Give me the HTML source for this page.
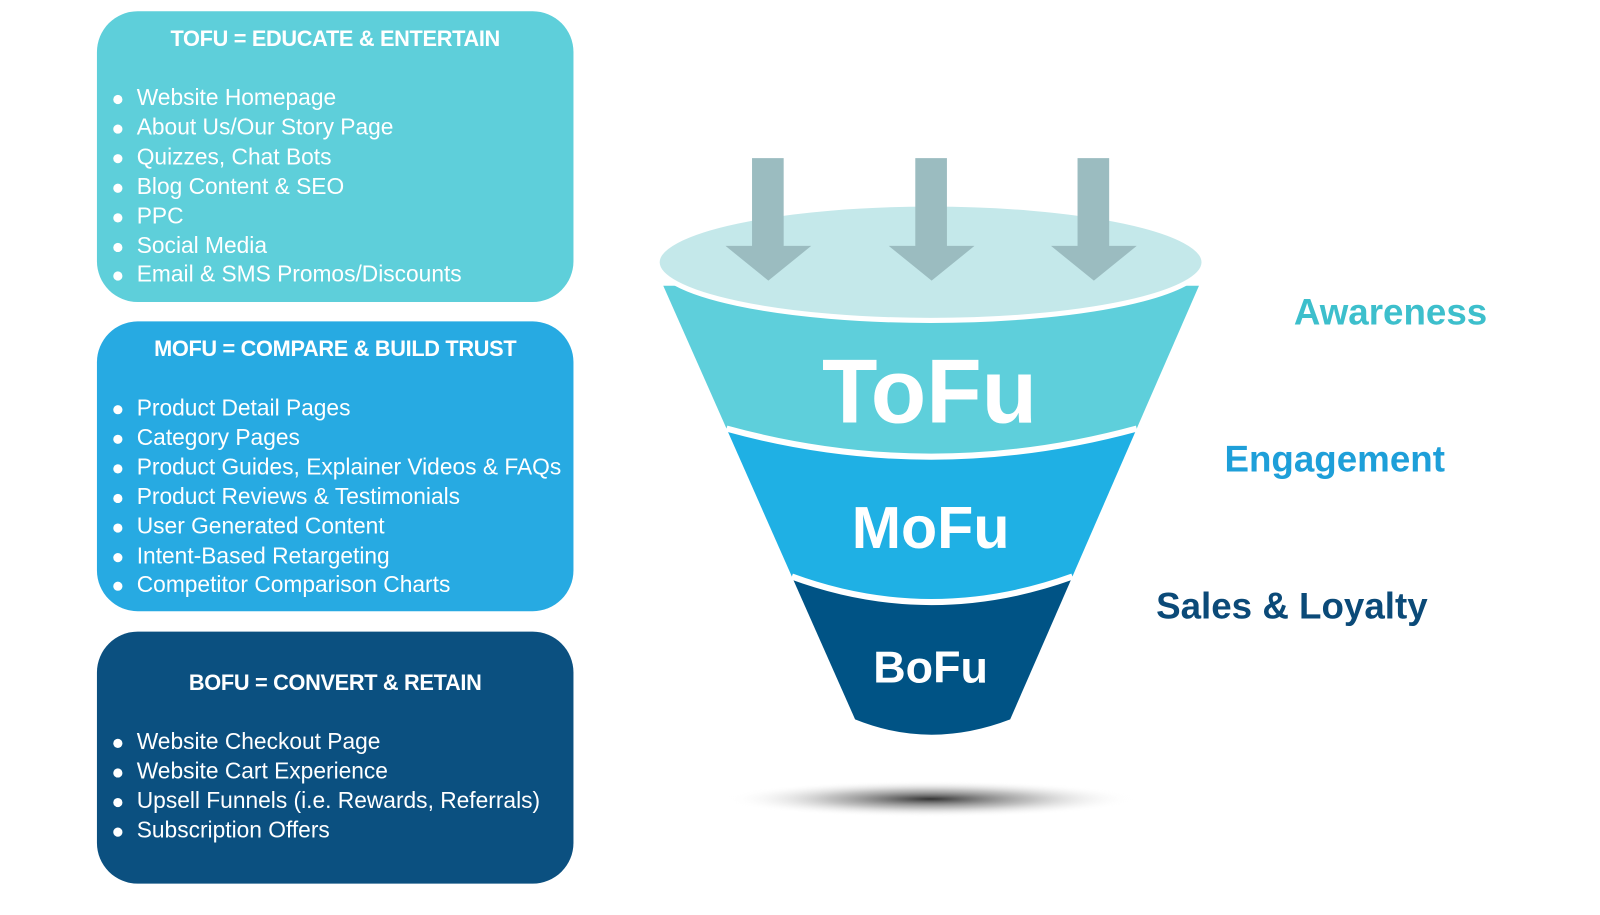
<!DOCTYPE html>
<html><head><meta charset="utf-8"><style>
html,body{margin:0;padding:0;background:#fff;width:1600px;height:915px;overflow:hidden;font-family:"Liberation Sans",sans-serif}
#wrap{position:absolute;left:0;top:0;width:1568px;height:897px;transform:scale(1.0204);transform-origin:0 0}
.box{position:absolute;left:95px;width:467px;border-radius:40px;color:#fff}
.box h3{margin:0;text-align:center;font-size:21.3px;font-weight:bold;letter-spacing:-0.3px}
.box ul{list-style:none;margin:0;padding:0}
.box li{position:relative;padding-left:39px;font-size:22.3px;line-height:28.9px;white-space:nowrap}
.box li:before{content:"";position:absolute;left:16px;top:11px;width:9px;height:9px;border-radius:50%;background:#fff}
.lbl{position:absolute;font-weight:bold;font-size:36px;white-space:nowrap}
</style></head><body><div id="wrap">
<div class="box" style="top:11px;height:285px;background:#5ecfda">
 <h3 style="padding-top:15px">TOFU = EDUCATE &amp; ENTERTAIN</h3>
 <ul style="margin-top:31px">
 <li>Website Homepage</li><li>About Us/Our Story Page</li><li>Quizzes, Chat Bots</li><li>Blog Content &amp; SEO</li><li>PPC</li><li>Social Media</li><li>Email &amp; SMS Promos/Discounts</li></ul>
</div>
<div class="box" style="top:315px;height:284px;background:#27aae2">
 <h3 style="padding-top:15px">MOFU = COMPARE &amp; BUILD TRUST</h3>
 <ul style="margin-top:31px">
 <li>Product Detail Pages</li><li>Category Pages</li><li>Product Guides, Explainer Videos &amp; FAQs</li><li>Product Reviews &amp; Testimonials</li><li>User Generated Content</li><li>Intent-Based Retargeting</li><li>Competitor Comparison Charts</li></ul>
</div>
<div class="box" style="top:619px;height:247px;background:#0b5080">
 <h3 style="padding-top:38px">BOFU = CONVERT &amp; RETAIN</h3>
 <ul style="margin-top:31px">
 <li>Website Checkout Page</li><li>Website Cart Experience</li><li>Upsell Funnels (i.e. Rewards, Referrals)</li><li>Subscription Offers</li></ul>
</div>
<svg style="position:absolute;left:0;top:0" width="1568" height="897">
<defs><radialGradient id="sh" cx="50%" cy="50%" r="50%"><stop offset="0" stop-color="#333"/><stop offset="0.5" stop-color="#999" stop-opacity=".6"/><stop offset="1" stop-color="#fff" stop-opacity="0"/></radialGradient></defs>
<ellipse cx="912" cy="783" rx="200" ry="18" fill="url(#sh)"/>
<path d="M776 565 L838 705 Q912 735 990 705 L1051 565 Z" fill="#005385"/>
<path d="M712 420 L776 565 Q912 615 1051 565 L1114 420 Z" fill="#1fb0e4"/>
<path d="M650 280 L712 420 Q912 475 1114 420 L1175 280 Z" fill="#5ecfdb"/>
<path d="M712 420 Q912 475 1114 420" fill="none" stroke="#fff" stroke-width="6"/>
<path d="M776 565 Q912 615 1051 565" fill="none" stroke="#fff" stroke-width="6"/>
<ellipse cx="912" cy="257" rx="268" ry="57" fill="#c4e8ea" stroke="#fff" stroke-width="5"/>
<g fill="#9bbcc0">
<path d="M737 155h31v86h27l-42 34-42-34h26z"/>
<path d="M897 155h31v86h27l-42 34-42-34h26z"/>
<path d="M1056 155h31v86h27l-42 34-42-34h26z"/>
</g>
<g fill="#fff" font-family="Liberation Sans,sans-serif" font-weight="bold" text-anchor="middle">
<text x="911" y="414" font-size="89">ToFu</text>
<text x="912" y="537" font-size="58">MoFu</text>
<text x="912" y="669" font-size="44">BoFu</text>
</g>
</svg>
<div class="lbl" style="left:1268px;top:285px;color:#3dbfcc">Awareness</div>
<div class="lbl" style="left:1200px;top:429px;color:#1e9fd9">Engagement</div>
<div class="lbl" style="left:1133px;top:573px;color:#0b4a78">Sales &amp; Loyalty</div>
</div></body></html>
